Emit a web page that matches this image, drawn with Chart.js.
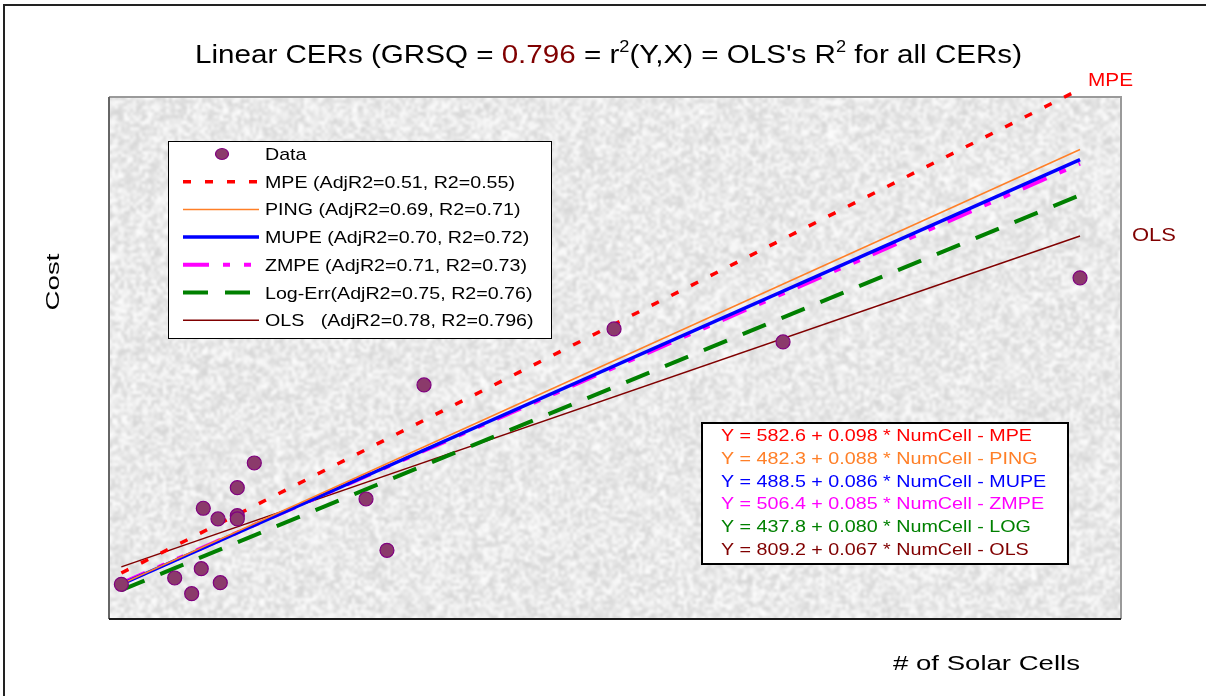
<!DOCTYPE html>
<html>
<head>
<meta charset="utf-8">
<title>Linear CERs</title>
<script src="https://cdn.jsdelivr.net/npm/chart.js@4.4.1/dist/chart.umd.min.js"></script>
<style>
  html, body { margin: 0; padding: 0; background: #fff; }
  #wrap { position: relative; width: 1206px; height: 696px; }
</style>
</head>
<body>
<div id="wrap"><canvas id="cerChart" width="1206" height="696"></canvas></div>
<script>
const numCells = [4650, 8320, 9490, 10150, 11460, 10290, 11300, 12630, 12630, 12630, 13800, 21490, 22930, 25480, 38560, 50190, 70630];
const costs    = [888, 972, 762, 1096, 909, 1904, 1761, 1805, 1761, 2179, 2509, 2028, 1342, 3552, 4301, 4127, 4983];

// Fitted CERs: Y = intercept + slope * NumCell
const cerNames   = ['MPE', 'PING', 'MUPE', 'ZMPE', 'LOG', 'OLS'];
const intercepts = [582.6, 482.3, 488.5, 506.4, 437.8, 809.2];
const slopes     = [0.098, 0.088, 0.086, 0.085, 0.080, 0.067];
const legendLabels = [
    'MPE (AdjR2=0.51, R2=0.55)',
    'PING (AdjR2=0.69, R2=0.71)',
    'MUPE (AdjR2=0.70, R2=0.72)',
    'ZMPE (AdjR2=0.71, R2=0.73)',
    'Log-Err(AdjR2=0.75, R2=0.76)',
    'OLS   (AdjR2=0.78, R2=0.796)'
];

// line styles
const lineColors = ['#ff0000', '#ff7f27', '#0000ff', '#ff00ff', '#008000', '#800000'];
const lineWidths = [3.5, 1.5, 3.5, 4, 4, 1.5];
const lineDashes = [[8, 14], [], [], [26, 14, 7, 14, 7, 14], [25, 17], []];
const eqColors   = ['#ff0000', '#ff7f27', '#0000ff', '#ff00ff', '#008000', '#800000'];

const FONT = '"Liberation Sans", Arial, sans-serif';

// deterministic hash noise for the paper texture
function hashNoise(i, j) {
    let h = (i * 374761393 + j * 668265263) | 0;
    h = Math.imul(h ^ (h >>> 13), 1274126177);
    h = h ^ (h >>> 16);
    return (h >>> 0) / 4294967295;
}

let textureCanvas = null;
function getTexture(w, h) {
    if (textureCanvas) return textureCanvas;
    const cell = 3;
    const sw = Math.ceil(w / cell), sh = Math.ceil(h / cell);
    const small = document.createElement('canvas');
    small.width = sw; small.height = sh;
    const sctx = small.getContext('2d');
    const img = sctx.createImageData(sw, sh);
    for (let j = 0; j < sh; j++) {
        for (let i = 0; i < sw; i++) {
            const v = Math.round(212 + hashNoise(i, j) * 43);
            const k = (j * sw + i) * 4;
            img.data[k] = v; img.data[k + 1] = v; img.data[k + 2] = v; img.data[k + 3] = 255;
        }
    }
    sctx.putImageData(img, 0, 0);
    textureCanvas = document.createElement('canvas');
    textureCanvas.width = w; textureCanvas.height = h;
    const tctx = textureCanvas.getContext('2d');
    tctx.imageSmoothingEnabled = true;
    tctx.filter = 'blur(1px)';
    tctx.drawImage(small, 0, 0, w, h);
    return textureCanvas;
}

// draw text squeezed/stretched to a given width
function fitText(ctx, text, x, y, width) {
    const w = ctx.measureText(text).width;
    ctx.save();
    ctx.translate(x, y);
    ctx.scale(width / w, 1);
    ctx.fillText(text, 0, 0);
    ctx.restore();
}

const decorPlugin = {
    id: 'decor',
    beforeDraw(chart) {
        const ctx = chart.ctx;
        ctx.save();
        ctx.fillStyle = '#ffffff';
        ctx.fillRect(0, 0, chart.width, chart.height);
        // outer frame (top and left visible)
        ctx.strokeStyle = '#222';
        ctx.lineWidth = 2;
        ctx.beginPath();
        ctx.moveTo(4, chart.height);
        ctx.lineTo(4, 5);
        ctx.lineTo(chart.width, 5);
        ctx.stroke();
        ctx.restore();
    },
    beforeDatasetsDraw(chart) {
        const ctx = chart.ctx;
        const a = chart.chartArea;
        const w = Math.round(a.right - a.left), h = Math.round(a.bottom - a.top);
        ctx.save();
        ctx.drawImage(getTexture(w, h), a.left, a.top);
        ctx.lineWidth = 2;
        ctx.strokeStyle = '#9a9a9a';
        ctx.beginPath();
        ctx.moveTo(a.left, a.top); ctx.lineTo(a.right, a.top); ctx.lineTo(a.right, a.bottom);
        ctx.stroke();
        ctx.strokeStyle = '#666';
        ctx.beginPath();
        ctx.moveTo(a.left, a.top); ctx.lineTo(a.left, a.bottom);
        ctx.stroke();
        ctx.strokeStyle = '#1a1a1a';
        ctx.beginPath();
        ctx.moveTo(a.left, a.bottom); ctx.lineTo(a.right, a.bottom);
        ctx.stroke();
        ctx.restore();
    },
    afterDraw(chart) {
        const ctx = chart.ctx;
        ctx.save();

        // ---- title with coloured value and superscripts
        const pieces = [
            ['Linear CERs (GRSQ = ', '#000', false],
            ['0.796', '#800000', false],
            [' = r', '#000', false],
            ['2', '#000', true],
            ['(Y,X) = OLS\'s R', '#000', false],
            ['2', '#000', true],
            [' for all CERs)', '#000', false]
        ];
        const bigFont = '26px ' + FONT, supFont = '16px ' + FONT;
        let total = 0;
        pieces.forEach(p => { ctx.font = p[2] ? supFont : bigFont; total += ctx.measureText(p[0]).width; });
        const sx = 827 / total;
        ctx.translate(195, 63);
        ctx.scale(sx, 1);
        let cx = 0;
        ctx.textBaseline = 'alphabetic';
        pieces.forEach(p => {
            ctx.font = p[2] ? supFont : bigFont;
            ctx.fillStyle = p[1];
            ctx.fillText(p[0], cx, p[2] ? -11 : 0);
            cx += ctx.measureText(p[0]).width;
        });
        ctx.setTransform(1, 0, 0, 1, 0, 0);

        // ---- axis titles
        ctx.fillStyle = '#000';
        ctx.font = '18px ' + FONT;
        ctx.save();
        ctx.translate(59, 282);
        ctx.rotate(-Math.PI / 2);
        const cw = 57;
        fitText(ctx, 'Cost', -cw / 2, 0, cw);
        ctx.restore();
        ctx.font = '20px ' + FONT;
        fitText(ctx, '# of Solar Cells', 893, 670, 187);

        // ---- end labels
        ctx.font = '19px ' + FONT;
        ctx.fillStyle = '#ff0000';
        fitText(ctx, 'MPE', 1088, 86, 45);
        ctx.fillStyle = '#800000';
        fitText(ctx, 'OLS', 1132, 241, 44);

        // ---- legend box
        const lx = 168, ly = 141, lw = 383, lh = 197;
        ctx.fillStyle = '#ffffff';
        ctx.fillRect(lx, ly, lw, lh);
        ctx.strokeStyle = '#000';
        ctx.lineWidth = 1;
        ctx.strokeRect(lx + 0.5, ly + 0.5, lw, lh);
        ctx.font = '17px ' + FONT;
        const lscale = 250 / ctx.measureText(legendLabels[0]).width;
        const rowY = i => 154 + i * 27.7;
        // data marker row
        ctx.beginPath();
        ctx.ellipse(222, rowY(0), 6.5, 5.5, 0, 0, Math.PI * 2);
        ctx.fillStyle = '#8b3a6b';
        ctx.fill();
        ctx.strokeStyle = '#800080';
        ctx.lineWidth = 1.2;
        ctx.stroke();
        ctx.fillStyle = '#000';
        fitText(ctx, 'Data', 265, rowY(0) + 6, ctx.measureText('Data').width * lscale);
        legendLabels.forEach((lab, i) => {
            const y = rowY(i + 1);
            ctx.save();
            ctx.strokeStyle = lineColors[i];
            ctx.lineWidth = lineWidths[i];
            ctx.setLineDash(lineDashes[i]);
            ctx.beginPath();
            ctx.moveTo(183, y);
            ctx.lineTo(259, y);
            ctx.stroke();
            ctx.restore();
            ctx.fillStyle = '#000';
            fitText(ctx, lab, 265, y + 6, ctx.measureText(lab).width * lscale);
        });

        // ---- equations box
        const ex = 702, ey = 423, ew = 366, eh = 141;
        ctx.fillStyle = '#ffffff';
        ctx.fillRect(ex, ey, ew, eh);
        ctx.strokeStyle = '#000';
        ctx.lineWidth = 2;
        ctx.strokeRect(ex, ey, ew, eh);
        ctx.font = '17px ' + FONT;
        const eqs = cerNames.map((n, i) =>
            'Y = ' + intercepts[i].toFixed(1) + ' + ' + slopes[i].toFixed(3) + ' * NumCell - ' + n);
        const escale = 311 / ctx.measureText(eqs[0]).width;
        eqs.forEach((t, i) => {
            ctx.fillStyle = eqColors[i];
            fitText(ctx, t, 721, 441 + i * 22.8, ctx.measureText(t).width * escale);
        });

        ctx.restore();
    }
};

// build datasets
const xLo = Math.min(...numCells), xHi = Math.max(...numCells);
const lineSets = cerNames.map((name, i) => ({
    label: name,
    type: 'scatter',
    showLine: true,
    data: [
        { x: xLo, y: intercepts[i] + slopes[i] * xLo },
        { x: xHi, y: intercepts[i] + slopes[i] * xHi }
    ],
    borderColor: lineColors[i],
    borderWidth: lineWidths[i],
    borderDash: lineDashes[i],
    pointRadius: 0,
    fill: false,
    clip: false,
    order: 1 + i
}));

const pointSet = {
    label: 'Data',
    data: numCells.map((x, i) => ({ x: x, y: costs[i] })),
    pointRadius: 7,
    pointBackgroundColor: '#8b3a6b',
    pointBorderColor: '#800080',
    pointBorderWidth: 1.2,
    showLine: false,
    order: 0
};

const ctx = document.getElementById('cerChart').getContext('2d');
const cerChart = new Chart(ctx, {
    type: 'scatter',
    data: { datasets: [pointSet].concat(lineSets) },
    options: {
        responsive: false,
        animation: false,
        layout: { padding: { left: 109, top: 97, right: 85, bottom: 77 } },
        plugins: {
            legend: { display: false },
            tooltip: { enabled: false },
            title: { display: false }
        },
        scales: {
            x: { type: 'linear', min: 3800, max: 73450, display: false },
            y: { type: 'linear', min: 424, max: 7400, display: false }
        }
    },
    plugins: [decorPlugin]
});
</script>
</body>
</html>
